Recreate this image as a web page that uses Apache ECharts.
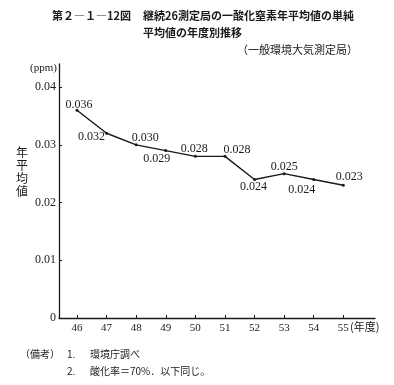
<!DOCTYPE html>
<html>
<head>
<meta charset="utf-8">
<script src="https://cdn.jsdelivr.net/npm/echarts@6/dist/echarts.min.js"></script>
<style>
html,body{margin:0;padding:0;background:#fff;}
#chart{width:394px;height:385px;}
</style>
</head>
<body>
<div id="chart"></div>
<script>
// ---- data ----
const years = [46, 47, 48, 49, 50, 51, 52, 53, 54, 55];
const values = [0.036, 0.032, 0.030, 0.029, 0.028, 0.028, 0.024, 0.025, 0.024, 0.023];
const yTicks = [0, 0.01, 0.02, 0.03, 0.04];
const yTickLabels = ['0', '0.01', '0.02', '0.03', '0.04'];
const titleLine1a = '第２―１―12図';
const titleLine1b = '継続26測定局の一酸化窒素年平均値の単純';
const titleLine2 = '平均値の年度別推移';
const titleLine3 = '（一般環境大気測定局）';
const yName = '年平均値';
const unitName = '(ppm)';
const xName = '(年度)';
const noteHead = '（備考）';
const notes = [['1.', '環境庁調べ'], ['2.', '酸化率＝70%．以下同じ。']];

// ---- label placement (style) ----
const labelOffsets = [[2,-5],[-15,4],[9,-7],[-9,8],[-1,-8],[12,-7],[-1,7],[0,-7],[-12,10],[6,-8]];

const ink = '#1a1a1a';
const serif = '"Liberation Serif", "DejaVu Serif", serif';
const jp = '"Noto Sans CJK JP", sans-serif';

const chart = echarts.init(document.getElementById('chart'));
const seriesData = years.map((y, i) => ({
  value: [y, values[i]],
  label: { offset: labelOffsets[i] }
}));

const graphics = [
  { type: 'text', x: 52, y: 16, style: { text: titleLine1a, font: 'bold 11px ' + jp, fill: ink, textVerticalAlign: 'middle' } },
  { type: 'text', x: 143, y: 16, style: { text: titleLine1b, font: 'bold 11px ' + jp, fill: ink, textVerticalAlign: 'middle' } },
  { type: 'text', x: 143, y: 33, style: { text: titleLine2, font: 'bold 11px ' + jp, fill: ink, textVerticalAlign: 'middle' } },
  { type: 'text', x: 237, y: 50, style: { text: titleLine3, font: '11px ' + jp, fill: ink, textVerticalAlign: 'middle' } },
  { type: 'text', x: 57, y: 68, style: { text: unitName, font: '11px ' + serif, fill: ink, textAlign: 'right', textVerticalAlign: 'middle' } },
  { type: 'text', x: 350, y: 327, style: { text: xName, font: '11px ' + jp, fill: ink, textVerticalAlign: 'middle' } },
  { type: 'text', x: 40, y: 354, style: { text: noteHead, font: '10px ' + jp, fill: ink, textAlign: 'center', textVerticalAlign: 'middle' } }
];
yName.split('').forEach((ch, i) => {
  graphics.push({ type: 'text', x: 22, y: 152 + i * 13.3, style: { text: ch, font: '12px ' + jp, fill: ink, textAlign: 'center', textVerticalAlign: 'middle' } });
});
notes.forEach((n, i) => {
  graphics.push({ type: 'text', x: 67, y: 354 + i * 17, style: { text: n[0], font: '10px ' + jp, fill: ink, textVerticalAlign: 'middle' } });
  graphics.push({ type: 'text', x: 90, y: 354 + i * 17, style: { text: n[1], font: '10px ' + jp, fill: ink, textVerticalAlign: 'middle' } });
});

chart.setOption({
  animation: false,
  backgroundColor: '#fff',
  grid: { left: 59, right: 19, top: 64, bottom: 67, containLabel: false },
  xAxis: {
    type: 'value', min: 45.392, max: 56.071,
    axisLine: { show: true, lineStyle: { color: ink, width: 1.3 } },
    axisTick: { show: true, inside: true, length: 3, customValues: years, lineStyle: { color: ink } },
    axisLabel: { customValues: years, margin: 5, color: ink, fontFamily: serif, fontSize: 11, formatter: v => String(v) },
    splitLine: { show: false }
  },
  yAxis: {
    type: 'value', min: 0, max: 0.044,
    axisLine: { show: true, lineStyle: { color: ink, width: 1.3 } },
    axisTick: { show: true, inside: true, length: 3, customValues: yTicks, lineStyle: { color: ink } },
    axisLabel: { customValues: yTicks, margin: 3, color: ink, fontFamily: serif, fontSize: 12,
      formatter: v => yTickLabels[yTicks.findIndex(t => Math.abs(t - v) < 1e-9)] },
    splitLine: { show: false }
  },
  graphic: graphics,
  series: [{
    type: 'line',
    data: seriesData,
    symbol: 'circle', symbolSize: 3,
    itemStyle: { color: ink },
    lineStyle: { color: ink, width: 1.4 },
    label: { show: true, position: 'inside', color: ink, fontFamily: serif, fontSize: 12,
      formatter: p => p.value[1].toFixed(3) }
  }]
});
</script>
</body>
</html>
